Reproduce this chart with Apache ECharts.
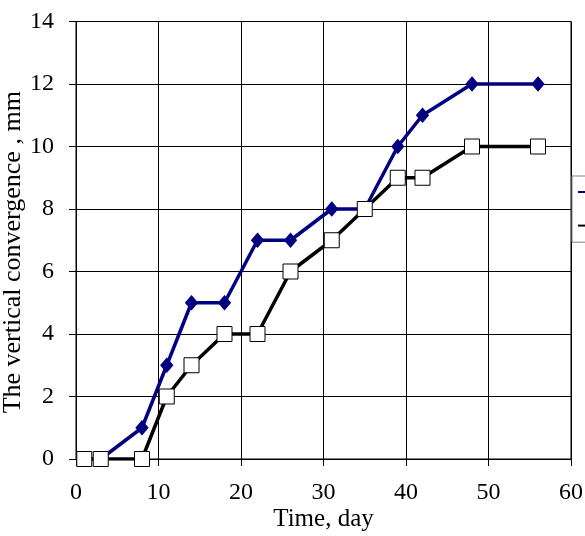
<!DOCTYPE html>
<html><head><meta charset="utf-8">
<script src="https://cdn.jsdelivr.net/npm/echarts@6/dist/echarts.min.js"></script>
<style>html,body{margin:0;padding:0;background:#fff}#c{width:585px;height:536px}</style>
</head><body><div id="c"></div>
<script>
const days = [1, 3, 8, 11, 14, 18, 22, 26, 31, 35, 39, 42, 48, 56];
const series1 = [0, 0, 1, 3, 5, 5, 7, 7, 8, 8, 10, 11, 12, 12];
const series2 = [0, 0, 0, 2, 3, 4, 4, 6, 7, 8, 9, 9, 10, 10];
const seriesNames = ['Series 1', 'Series 2'];
const xTitle = 'Time, day';
const yTitle = 'The vertical convergence , mm';

const font = 'Liberation Serif, Times New Roman, serif';
const chart = echarts.init(document.getElementById('c'));
chart.setOption({
  animation: false,
  backgroundColor: '#fff',
  grid: {left: 76, right: 14, top: 21.5, bottom: 77, show: true, borderColor: '#000', borderWidth: 1,
         containLabel: false, outerBoundsMode: 'none'},
  legend: {
    orient: 'vertical', left: 572, top: 176, padding: [10, 5, 10, 5],
    itemGap: 21, itemWidth: 30, itemHeight: 14,
    borderColor: '#808080', borderWidth: 1, backgroundColor: '#fff',
    textStyle: {fontFamily: font, fontSize: 12, color: '#000'},
    data: seriesNames
  },
  xAxis: {
    type: 'value', min: 0, max: 60, interval: 10,
    name: xTitle, nameLocation: 'middle', nameGap: 48, nameMoveOverlap: false,
    nameTextStyle: {fontFamily: font, fontSize: 25, color: '#000'},
    axisLine: {show: true, lineStyle: {color: '#000', width: 1}},
    axisTick: {show: true, length: 7, lineStyle: {color: '#000'}},
    axisLabel: {fontFamily: font, fontSize: 24, color: '#000', margin: 22},
    splitLine: {show: true, lineStyle: {color: '#000', width: 1}}
  },
  yAxis: {
    type: 'value', min: 0, max: 14, interval: 2,
    name: yTitle, nameLocation: 'middle', nameGap: 50, nameRotate: 90, nameMoveOverlap: false,
    nameTextStyle: {fontFamily: font, fontSize: 26, color: '#000', padding: [0, 24, 0, 0]},
    axisLine: {show: true, lineStyle: {color: '#000', width: 1}},
    axisTick: {show: true, length: 7, lineStyle: {color: '#000'}},
    axisLabel: {fontFamily: font, fontSize: 24, color: '#000', margin: 22},
    splitLine: {show: true, lineStyle: {color: '#000', width: 1}}
  },
  series: [
    {
      name: seriesNames[0], type: 'line',
      data: days.map((d, i) => [d, series1[i]]),
      symbol: 'diamond', symbolSize: [12, 14], showAllSymbol: true,
      lineStyle: {color: '#000080', width: 3.5},
      itemStyle: {color: '#000080', borderColor: '#000080'},
      z: 3
    },
    {
      name: seriesNames[1], type: 'line',
      data: days.map((d, i) => [d, series2[i]]),
      symbol: 'rect', symbolSize: 15, showAllSymbol: true,
      lineStyle: {color: '#000', width: 3.5},
      itemStyle: {color: '#fff', borderColor: '#000', borderWidth: 1},
      z: 4
    }
  ]
});
</script></body></html>
